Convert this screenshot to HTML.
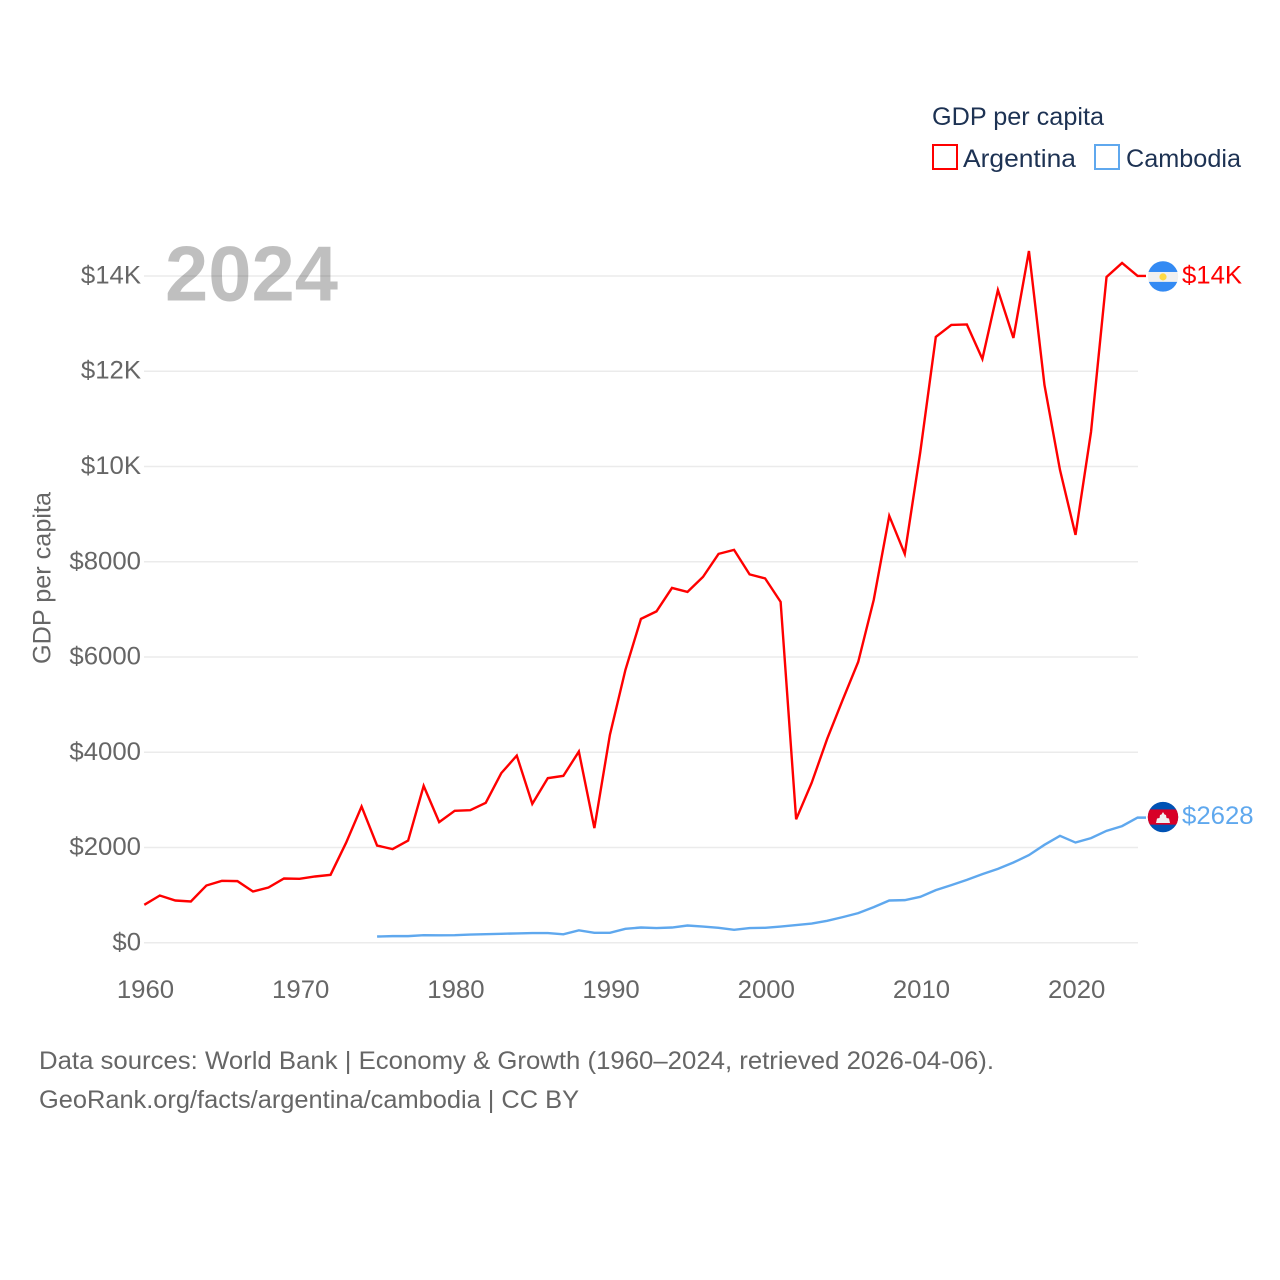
<!DOCTYPE html>
<html lang="en">
<head>
<meta charset="utf-8">
<title>GDP per capita: Argentina and Cambodia</title>
<style>
html,body{margin:0;padding:0;background:#fff;width:1280px;height:1280px;overflow:hidden}
svg{display:block}
text{font-family:"Liberation Sans",sans-serif}
</style>
</head>
<body>
<svg id="chart" xmlns="http://www.w3.org/2000/svg" width="1280" height="1280" viewBox="0 0 1280 1280">
  <g id="grid"></g>
  <g id="yticks"></g>
  <g id="xticks"></g>
  <text transform="translate(50.5,664) rotate(-90)" font-size="25" fill="#666" textLength="172" lengthAdjust="spacingAndGlyphs">GDP per capita</text>
  <g id="series"></g>
  <text x="165" y="300.5" font-size="78" font-weight="700" fill="#000" fill-opacity="0.25" textLength="173" lengthAdjust="spacingAndGlyphs">2024</text>

  <g>
    <text x="932" y="125" font-size="25" fill="#1d3253" textLength="172" lengthAdjust="spacingAndGlyphs">GDP per capita</text>
    <g>
      <rect x="933" y="145" width="24" height="24" fill="#fff" stroke="#ff0000" stroke-width="2"></rect>
      <text x="963" y="167" font-size="25" fill="#1d3253" textLength="113" lengthAdjust="spacingAndGlyphs">Argentina</text>
    </g>
    <g>
      <rect x="1095" y="145" width="24" height="24" fill="#fff" stroke="#5fa8ee" stroke-width="2"></rect>
      <text x="1126" y="167" font-size="25" fill="#1d3253" textLength="115" lengthAdjust="spacingAndGlyphs">Cambodia</text>
    </g>
  </g>

  <defs>
    <clipPath id="flag-clip"><circle cx="0" cy="0" r="15.2"></circle></clipPath>
  </defs>
  <g id="flag-ar" clip-path="url(#flag-clip)">
    <rect x="-16" y="-16" width="32" height="32" fill="#f0f0f0"></rect>
    <rect x="-16" y="-16" width="32" height="11.5" fill="#338af3"></rect>
    <rect x="-16" y="5.4" width="32" height="11" fill="#338af3"></rect>
    <circle cx="0" cy="0.4" r="3.6" fill="#ffda44"></circle>
  </g>
  <g id="flag-kh" clip-path="url(#flag-clip)">
    <rect x="-16" y="-16" width="32" height="32" fill="#0052b4"></rect>
    <rect x="-16" y="-7.6" width="32" height="15.2" fill="#d80027"></rect>
    <polygon points="-7,6 -6,1.5 -3.5,1 -3,-2 -1.5,-2.5 0,-5 1.5,-2.5 3,-2 3.5,1 6,1.5 7,6" fill="#f0f0f0"></polygon>
  </g>
  <text id="end-ar" x="1182" font-size="25" fill="#ff0000"></text>
  <text id="end-kh" x="1182" font-size="25" fill="#5fa8ee"></text>

  <text x="39" y="1069" font-size="25" fill="#666" textLength="955" lengthAdjust="spacingAndGlyphs">Data sources: World Bank | Economy &amp; Growth (1960–2024, retrieved 2026-04-06).</text>
  <text x="39" y="1108" font-size="25" fill="#666" textLength="540" lengthAdjust="spacingAndGlyphs">GeoRank.org/facts/argentina/cambodia | CC BY</text>
</svg>
<script>
const yTickValues = [0, 2000, 4000, 6000, 8000, 10000, 12000, 14000];
const yTickLabels = ["$0", "$2000", "$4000", "$6000", "$8000", "$10K", "$12K", "$14K"];
const xTickYears = [1960, 1970, 1980, 1990, 2000, 2010, 2020];
const argentinaStartYear = 1960;
const argentinaValues = [798, 993, 888, 867, 1203, 1301, 1295, 1077, 1161, 1350,
  1343, 1392, 1427, 2099, 2861, 2042, 1967, 2147, 3295, 2533,
  2771, 2785, 2939, 3562, 3931, 2918, 3457, 3505, 4015, 2408,
  4366, 5730, 6801, 6958, 7451, 7367, 7682, 8165, 8249, 7735,
  7651, 7158, 2592, 3358, 4282, 5101, 5898, 7200, 8963, 8165,
  10306, 12720, 12972, 12982, 12258, 13706, 12699, 14525, 11712, 9928,
  8564, 10726, 13979, 14273, 14000];
const cambodiaStartYear = 1975;
const cambodiaValues = [132, 140, 140, 160, 157, 160, 172, 180, 189, 197,
  204, 204, 178, 262, 210, 210, 294, 321, 309, 321,
  363, 342, 315, 273, 309, 315, 342, 372, 405, 462,
  539, 623, 749, 888, 896, 966, 1106, 1211, 1322, 1442,
  1553, 1686, 1841, 2057, 2246, 2105, 2198, 2351, 2450, 2628];
const argentinaEndLabel = "$14K";
const cambodiaEndLabel = "$2628";

const SVG_NS = "http://www.w3.org/2000/svg";
const xScale = function (year) { return 144.3 + (year - 1960) * 15.52; };
const yScale = function (value) { return 942.8 - value * 0.04763; };
const PLOT_LEFT = 144;
const PLOT_RIGHT = 1138;
const CONNECTOR_END = 1146;

function make(tag, parent) {
  const el = document.createElementNS(SVG_NS, tag);
  parent.appendChild(el);
  return el;
}
function stretch(el, factor) {
  el.setAttribute("textLength", (el.getComputedTextLength() * factor).toFixed(1));
  el.setAttribute("lengthAdjust", "spacingAndGlyphs");
}

const gridGroup = document.getElementById("grid");
const yTickGroup = document.getElementById("yticks");
yTickValues.forEach(function (value, i) {
  const line = make("line", gridGroup);
  
  
  line.setAttribute("x1", PLOT_LEFT);
  line.setAttribute("x2", PLOT_RIGHT);
  line.setAttribute("y1", yScale(value));
  line.setAttribute("y2", yScale(value));
  line.setAttribute("stroke", "#ebebeb");
  line.setAttribute("stroke-width", "1.5");

  const label = make("text", yTickGroup);
  
  
  label.setAttribute("x", 141);
  label.setAttribute("y", yScale(value) + 7.5);
  label.setAttribute("text-anchor", "end");
  label.setAttribute("font-size", "25");
  label.setAttribute("fill", "#666");
  label.textContent = yTickLabels[i];
  stretch(label, 1.03);
});

const xTickGroup = document.getElementById("xticks");
xTickYears.forEach(function (year) {
  const label = make("text", xTickGroup);
  
  
  label.setAttribute("x", xScale(year) + 1.2);
  label.setAttribute("y", 998);
  label.setAttribute("text-anchor", "middle");
  label.setAttribute("font-size", "25");
  label.setAttribute("fill", "#666");
  label.textContent = String(year);
  stretch(label, 1.03);
});

function pathFor(startYear, values) {
  const pts = values.map(function (v, i) {
    return xScale(startYear + i).toFixed(2) + "," + yScale(v).toFixed(2);
  });
  pts.push(CONNECTOR_END + "," + yScale(values[values.length - 1]).toFixed(2));
  return "M" + pts.join("L");
}
const seriesGroup = document.getElementById("series");

const argentinaLine = make("path", seriesGroup);


argentinaLine.setAttribute("d", pathFor(argentinaStartYear, argentinaValues));
argentinaLine.setAttribute("fill", "none");
argentinaLine.setAttribute("stroke", "#ff0000");
argentinaLine.setAttribute("stroke-width", "2.4");
argentinaLine.setAttribute("stroke-linejoin", "miter");

const cambodiaLine = make("path", seriesGroup);


cambodiaLine.setAttribute("d", pathFor(cambodiaStartYear, cambodiaValues));
cambodiaLine.setAttribute("fill", "none");
cambodiaLine.setAttribute("stroke", "#5fa8ee");
cambodiaLine.setAttribute("stroke-width", "2.4");
cambodiaLine.setAttribute("stroke-linejoin", "miter");

const argentinaEndY = yScale(argentinaValues[argentinaValues.length - 1]);
const cambodiaEndY = yScale(cambodiaValues[cambodiaValues.length - 1]);
document.getElementById("flag-ar").setAttribute("transform", "translate(1163," + (argentinaEndY + 0.5) + ")");
document.getElementById("flag-kh").setAttribute("transform", "translate(1163," + (cambodiaEndY - 0.6) + ")");

const endAr = document.getElementById("end-ar");
endAr.setAttribute("y", argentinaEndY + 7.5);
endAr.textContent = argentinaEndLabel;
stretch(endAr, 1.03);

const endKh = document.getElementById("end-kh");
endKh.setAttribute("y", cambodiaEndY + 6.5);
endKh.textContent = cambodiaEndLabel;
stretch(endKh, 1.03);
</script>
</body>
</html>
